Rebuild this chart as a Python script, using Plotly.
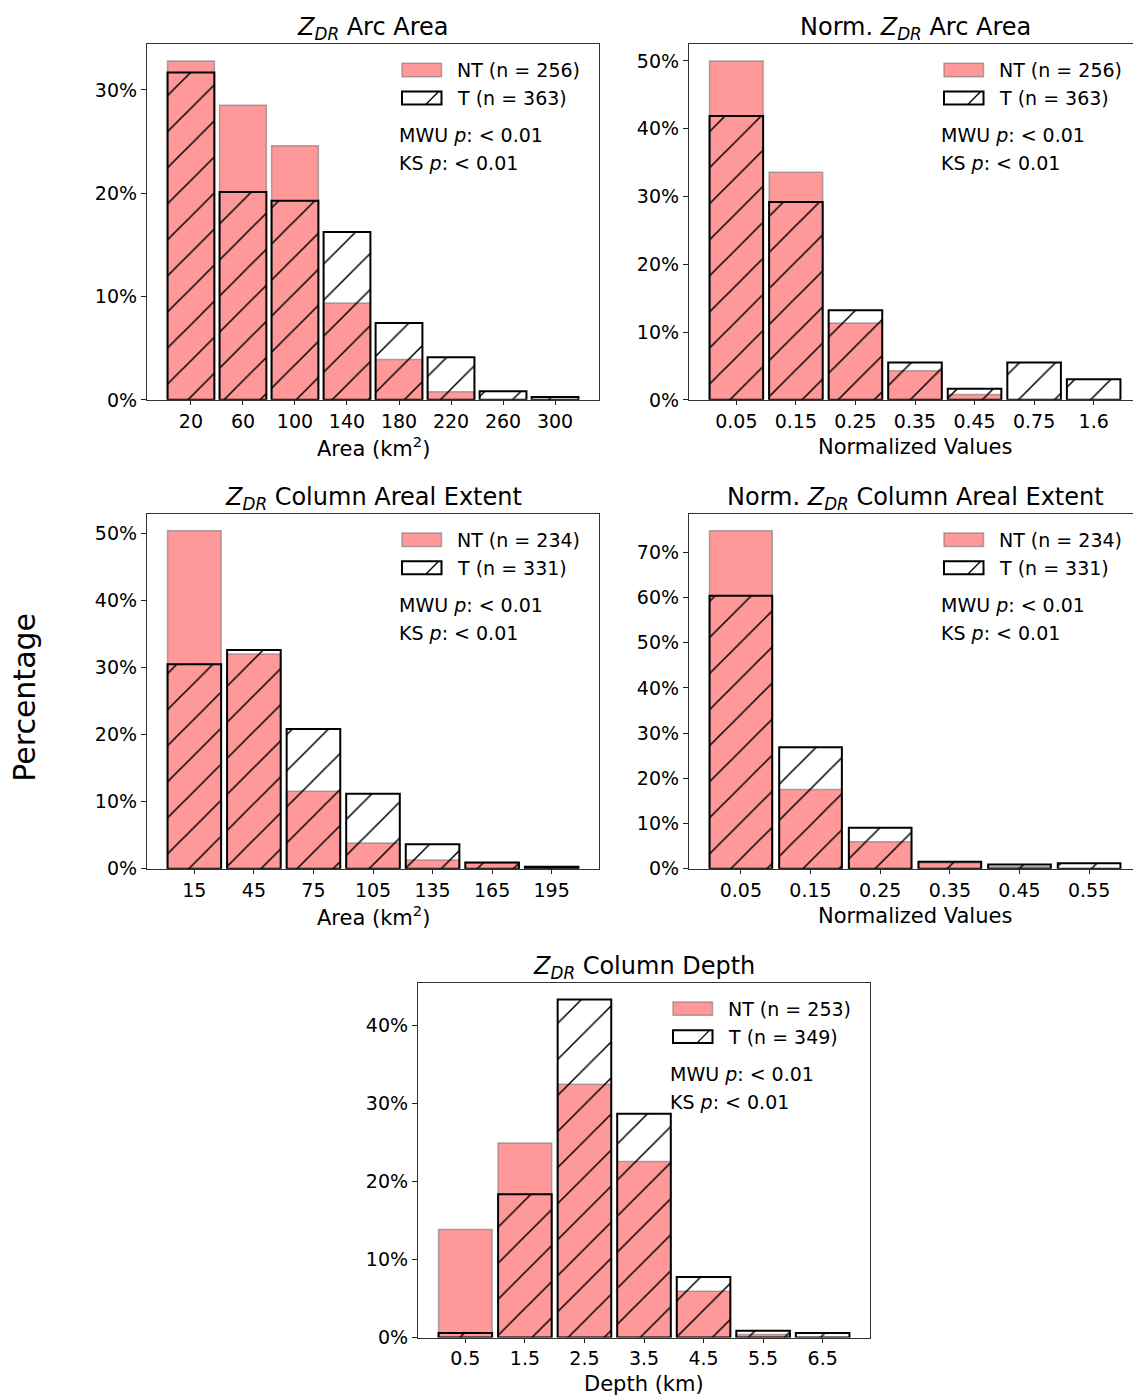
import plotly.graph_objects as go

W, H = 1133, 1395
# vertical extent that the domain fractions below are laid out against
H_LAYOUT = 1384.5
FONT = "DejaVu Sans"

# ---- data: percentage of cases per bin ----
arc_area_bins = ["20", "60", "100", "140", "180", "220", "260", "300"]
arc_area_nt = [32.81, 28.52, 24.61, 9.38, 3.91, 0.78, 0.0, 0.0]
arc_area_t = [31.68, 20.11, 19.28, 16.25, 7.44, 4.13, 0.83, 0.28]

norm_arc_bins = ["0.05", "0.15", "0.25", "0.35", "0.45", "0.75", "1.6"]
norm_arc_nt = [50.00, 33.59, 11.33, 4.30, 0.78, 0.0, 0.0]
norm_arc_t = [41.87, 29.20, 13.22, 5.51, 1.65, 5.51, 3.03]

col_area_bins = ["15", "45", "75", "105", "135", "165", "195"]
col_area_nt = [50.43, 32.05, 11.54, 3.85, 1.28, 0.85, 0.0]
col_area_t = [30.51, 32.63, 20.85, 11.18, 3.63, 0.91, 0.30]

norm_col_bins = ["0.05", "0.15", "0.25", "0.35", "0.45", "0.55"]
norm_col_nt = [74.79, 17.52, 5.98, 1.28, 0.43, 0.0]
norm_col_t = [60.42, 26.89, 9.06, 1.51, 0.91, 1.21]

depth_bins = ["0.5", "1.5", "2.5", "3.5", "4.5", "5.5", "6.5"]
depth_nt = [13.83, 24.90, 32.41, 22.53, 5.93, 0.40, 0.0]
depth_t = [0.57, 18.34, 43.27, 28.65, 7.74, 0.86, 0.57]

ZDR = "<i>Z</i><sub><i>DR</i></sub>"

# panel boxes in pixels: left, top, bottom; axes width is the same everywhere
AX_W = 452
panels = [
    dict(title=f"{ZDR} Arc Area", xlabel="Area (km<sup>2</sup>)",
         bins=arc_area_bins, nt=arc_area_nt, t=arc_area_t, n_nt=256, n_t=363,
         yticks=[0, 10, 20, 30], box=(147, 44, 400)),
    dict(title=f"Norm. {ZDR} Arc Area", xlabel="Normalized Values",
         bins=norm_arc_bins, nt=norm_arc_nt, t=norm_arc_t, n_nt=256, n_t=363,
         yticks=[0, 10, 20, 30, 40, 50], box=(689, 44, 400)),
    dict(title=f"{ZDR} Column Areal Extent", xlabel="Area (km<sup>2</sup>)",
         bins=col_area_bins, nt=col_area_nt, t=col_area_t, n_nt=234, n_t=331,
         yticks=[0, 10, 20, 30, 40, 50], box=(147, 514, 869)),
    dict(title=f"Norm. {ZDR} Column Areal Extent", xlabel="Normalized Values",
         bins=norm_col_bins, nt=norm_col_nt, t=norm_col_t, n_nt=234, n_t=331,
         yticks=[0, 10, 20, 30, 40, 50, 60, 70], box=(689, 514, 869)),
    dict(title=f"{ZDR} Column Depth", xlabel="Depth (km)",
         bins=depth_bins, nt=depth_nt, t=depth_t, n_nt=253, n_t=349,
         yticks=[0, 10, 20, 30, 40], box=(418, 983, 1338)),
]

BAR_W = 0.9
NT_FILL = "#ff9999"
NT_EDGE = "rgba(110,110,110,0.55)"

fig = go.Figure()
layout = dict(
    width=W, height=H, margin=dict(l=0, r=0, t=0, b=0),
    paper_bgcolor="white", plot_bgcolor="white",
    barmode="overlay", showlegend=False,
    font=dict(family=FONT, size=19, color="black"),
)
annotations = []
shapes = []


def px(x):
    return x / W


def py(y):
    return min(1.0, max(0.0, 1 - y / H_LAYOUT))


for i, p in enumerate(panels, start=1):
    left, top, bottom = p["box"]
    n = len(p["bins"])
    xs = list(range(n))
    lo = -BAR_W / 2 - 0.05 * (n - 1 + BAR_W)
    hi = n - 1 + BAR_W / 2 + 0.05 * (n - 1 + BAR_W)
    right = left + AX_W
    clip_right = min(right, W)
    hi_vis = lo + (hi - lo) * (clip_right - left) / AX_W
    ymax = max(max(p["nt"]), max(p["t"])) * 1.05

    xa = "x" if i == 1 else f"x{i}"
    ya = "y" if i == 1 else f"y{i}"

    fig.add_trace(go.Bar(
        x=xs, y=p["nt"], width=BAR_W, xaxis=xa, yaxis=ya,
        marker=dict(color=NT_FILL, line=dict(color=NT_EDGE, width=1.5)),
        name=f"NT (n = {p['n_nt']})", hoverinfo="skip",
    ))
    fig.add_trace(go.Bar(
        x=xs, y=p["t"], width=BAR_W, xaxis=xa, yaxis=ya,
        marker=dict(
            color="rgba(0,0,0,0)",
            line=dict(color="black", width=2),
            pattern=dict(shape="/", size=25.5, solidity=0.06,
                         fgcolor="black", fgopacity=1,
                         bgcolor="rgba(0,0,0,0)", fillmode="overlay"),
        ),
        name=f"T (n = {p['n_t']})", hoverinfo="skip",
    ))

    key = "" if i == 1 else str(i)
    layout["xaxis" + key] = dict(
        domain=[px(left), px(clip_right)], range=[lo, hi_vis],
        anchor=ya, tickmode="array", tickvals=xs, ticktext=p["bins"],
        ticks="outside", ticklen=4, tickwidth=1.2, tickcolor="#222",
        showline=True, linecolor="#333", linewidth=1.2, mirror=True,
        showgrid=False, zeroline=False, fixedrange=True,
        tickfont=dict(family=FONT, size=19, color="black"),
    )
    layout["yaxis" + key] = dict(
        domain=[py(bottom), py(top)], range=[0, ymax],
        anchor=xa, tickmode="array", tickvals=p["yticks"],
        ticktext=[f"{v}%" for v in p["yticks"]],
        ticks="outside", ticklen=5, tickwidth=1.2, tickcolor="#222",
        showline=True, linecolor="#333", linewidth=1.2,
        mirror=right <= W,
        showgrid=False, zeroline=False, fixedrange=True,
        tickfont=dict(family=FONT, size=19, color="black"),
    )

    cx = left + AX_W / 2
    # panel title
    annotations.append(dict(
        text=p["title"], x=px(cx), y=py(top - 15), xref="paper", yref="paper",
        xanchor="center", yanchor="middle", showarrow=False,
        font=dict(family=FONT, size=24, color="black"),
    ))
    # x-axis title
    annotations.append(dict(
        text=p["xlabel"], x=px(cx), y=py(bottom + 47), xref="paper", yref="paper",
        xanchor="center", yanchor="middle", showarrow=False,
        font=dict(family=FONT, size=21, color="black"),
    ))

    # legend patches
    lx0, lx1 = left + 255, left + 294.5
    shapes.append(dict(type="rect", xref="paper", yref="paper",
                       x0=px(lx0), x1=px(lx1), y0=py(top + 32.7), y1=py(top + 19.3),
                       fillcolor=NT_FILL, line=dict(color=NT_EDGE, width=1.5)))
    shapes.append(dict(type="rect", xref="paper", yref="paper",
                       x0=px(lx0), x1=px(lx1), y0=py(top + 60.5), y1=py(top + 47.5),
                       fillcolor="rgba(0,0,0,0)", line=dict(color="black", width=2)))
    hx = lx0 + 0.6 * (lx1 - lx0)
    shapes.append(dict(type="line", xref="paper", yref="paper",
                       x0=px(hx), x1=px(hx + 13), y0=py(top + 60.5), y1=py(top + 47.5),
                       line=dict(color="black", width=1.3)))

    legend_rows = [
        (left + 308, top + 26, f"NT (n = {p['n_nt']})"),
        (left + 308, top + 54, f"T (n = {p['n_t']})"),
        (left + 250, top + 91, "MWU <i>p</i>: &lt; 0.01"),
        (left + 250, top + 119, "KS <i>p</i>: &lt; 0.01"),
    ]
    for tx, ty, txt in legend_rows:
        annotations.append(dict(
            text=txt, x=px(tx), y=py(ty), xref="paper", yref="paper",
            xanchor="left", yanchor="middle", showarrow=False,
            font=dict(family=FONT, size=19, color="black"),
        ))

# shared y-axis label
annotations.append(dict(
    text="Percentage", x=px(25), y=py(698), xref="paper", yref="paper",
    xanchor="center", yanchor="middle", textangle=-90, showarrow=False,
    font=dict(family=FONT, size=30, color="black"),
))

layout["annotations"] = annotations
layout["shapes"] = shapes
fig.update_layout(**layout)
fig.write_html("out.html")
